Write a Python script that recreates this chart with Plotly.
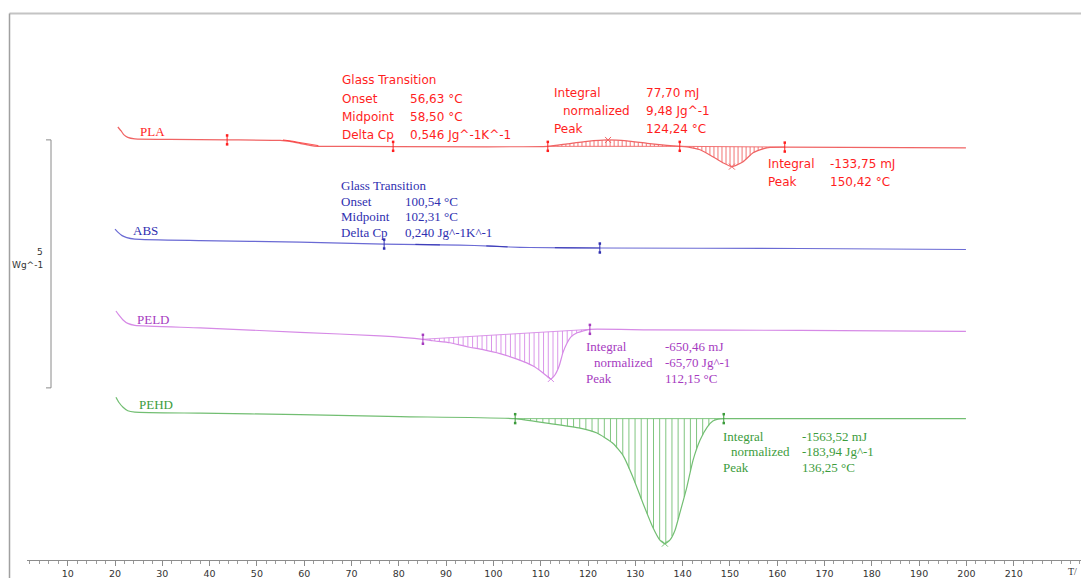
import numpy as np
import plotly.graph_objects as go

# ---------------- data ----------------
# temperature in °C, heat flow in W/g relative to each curve's start level
pla_T = [20.6, 21.3, 21.9, 22.7, 24.2, 31.6, 43.7, 54.9, 57.0, 59.1, 61.2, 62.9, 65.5,
         111.5, 115.6, 119.8, 124.0, 128.2, 132.5, 136.7, 139.4, 141.5, 143.7, 146.4,
         148.5, 150.4, 152.8, 154.9, 157.0, 158.5, 161.6, 199.9]
pla_hf = [0.26, 0.18, 0.10, 0.05, 0.02, 0.01, 0.0, -0.01, -0.03, -0.07, -0.11, -0.13, -0.13,
          -0.13, -0.08, -0.03, 0.0, -0.02, -0.07, -0.11, -0.13, -0.15, -0.20, -0.34,
          -0.46, -0.54, -0.44, -0.26, -0.18, -0.15, -0.145, -0.16]

abs_T = [20.0, 20.6, 21.5, 22.5, 24.2, 38.0, 59.1, 76.9, 92.9, 99.3, 103.5, 107.7, 122.5, 164.8, 199.9]
abs_hf = [0.21, 0.15, 0.08, 0.04, 0.01, -0.02, -0.05, -0.09, -0.11, -0.13, -0.15, -0.16, -0.17, -0.18, -0.20]

peld_T = [20.2, 20.8, 21.7, 22.7, 24.2, 38.0, 59.1, 76.0, 85.1, 87.2, 90.8, 94.4, 97.8, 101.4,
          105.0, 108.4, 110.5, 111.5, 112.15, 113.0, 113.9, 114.7, 115.6, 116.4, 117.7, 119.0,
          120.4, 133.1, 164.8, 199.9]
peld_hf = [0.28, 0.20, 0.10, 0.03, -0.01, -0.06, -0.15, -0.22, -0.29, -0.32, -0.36, -0.44, -0.50, -0.58,
           -0.69, -0.83, -0.97, -1.05, -1.09, -1.01, -0.83, -0.56, -0.36, -0.24, -0.16, -0.12,
           -0.09, -0.10, -0.11, -0.13]

pehd_T = [20.2, 20.8, 21.7, 22.7, 24.2, 38.0, 59.1, 80.3, 104.6, 111.3, 118.3, 121.9, 125.3, 127.4,
          129.5, 131.6, 133.7, 135.2, 136.25, 137.3, 138.4, 139.4, 140.9, 142.2, 143.7, 145.2,
          146.4, 147.5, 148.7, 164.8, 199.9]
pehd_hf = [0.30, 0.20, 0.10, 0.03, 0.0, -0.02, -0.05, -0.09, -0.13, -0.22, -0.32, -0.42, -0.63, -0.87,
           -1.31, -1.83, -2.32, -2.58, -2.65, -2.58, -2.38, -2.04, -1.51, -0.97, -0.56, -0.30,
           -0.18, -0.14, -0.13, -0.13, -0.13]

# vertical stacking offsets (W/g)
offsets = {"PLA": 8.47, "ABS": 6.46, "PELD": 4.74, "PEHD": 2.98}

# evaluation limits / peaks (°C)
pla_tg_limits = [43.7, 78.8]
pla_int_limits = [111.5, 139.4, 161.6]
pla_peaks = [124.24, 150.42]
abs_tg_limits = [76.9, 122.5]
peld_limits = [85.1, 120.4]
peld_peak = [112.15]
pehd_limits = [104.6, 148.7]
pehd_peak = [136.25]

scale_bar_wg = 5
x_tick_vals = list(range(10, 211, 10))

# ---------------- colours ----------------
LINE = {"PLA": "#f06464", "ABS": "#6a6ad4", "PELD": "#d68ae6", "PEHD": "#72be72"}
TEXT = {"PLA": "#ff1e1e", "ABS": "#2f2fb0", "PELD": "#a63bbf", "PEHD": "#3c9c3c"}

# ---------------- pixel helpers (for layout placement only) ----------------
PX_PER_DEG, X0_PX, PX_PER_WG, AXIS_PX = 4.73, 20.4, 49.6, 560


def T_at(px):
    return (px - X0_PX) / PX_PER_DEG


def Y_at(py):
    return (AXIS_PX - py) / PX_PER_WG


curves = {
    "PLA": (np.array(pla_T), np.array(pla_hf) + offsets["PLA"]),
    "ABS": (np.array(abs_T), np.array(abs_hf) + offsets["ABS"]),
    "PELD": (np.array(peld_T), np.array(peld_hf) + offsets["PELD"]),
    "PEHD": (np.array(pehd_T), np.array(pehd_hf) + offsets["PEHD"]),
}


def yc(name, t):
    T, Y = curves[name]
    return float(np.interp(t, T, Y))


fig = go.Figure()

# hatching
def hatch(name, t0, t1, step):
    xs, ys = [], []
    b0, b1 = yc(name, t0), yc(name, t1)
    for t in np.arange(t0 + step / 2, t1, step):
        yb = b0 + (b1 - b0) * (t - t0) / (t1 - t0)
        xs += [t, t, None]
        ys += [yb, yc(name, t), None]
    xs += [t0, t1, None]
    ys += [b0, b1, None]
    fig.add_trace(go.Scatter(x=xs, y=ys, mode="lines", line=dict(color=LINE[name], width=0.9),
                             hoverinfo="skip", showlegend=False))


hatch("PLA", pla_int_limits[0], pla_int_limits[1], 0.85)
hatch("PLA", pla_int_limits[1], pla_int_limits[2], 0.85)
hatch("PELD", peld_limits[0], peld_limits[1], 1.0)
hatch("PEHD", pehd_limits[0], pehd_limits[1], 1.3)

# curves
for name, (T, Y) in curves.items():
    fig.add_trace(go.Scatter(x=T, y=Y, mode="lines", line=dict(color=LINE[name], width=1.2, shape="spline", smoothing=0.5),
                             hoverinfo="skip", showlegend=False))

# tangent segments (glass transitions)
def tangent(name, t0, t1, width=1.2, dy=0.0):
    ts = np.linspace(t0, t1, 8)
    fig.add_trace(go.Scatter(x=ts, y=[yc(name, t) + dy for t in ts], mode="lines",
                             line=dict(color=TEXT[name], width=width), opacity=0.75,
                             hoverinfo="skip", showlegend=False))


tangent("ABS", 83.5, 88.7)
tangent("ABS", 98.5, 103.0)
tangent("ABS", 113.0, 122.5)
tangent("PLA", 55.5, 63.0, 1.0, 0.015)

# limit markers
def limits(name, ts):
    xs, ys = [], []
    for t in ts:
        y = yc(name, t)
        xs += [t, t, None]
        ys += [y + 0.09, y - 0.09, None]
    fig.add_trace(go.Scatter(x=xs, y=ys, mode="lines+markers", line=dict(color=TEXT[name], width=1),
                             marker=dict(size=2.5, symbol="square", color=TEXT[name]),
                             hoverinfo="skip", showlegend=False))


limits("PLA", pla_tg_limits + pla_int_limits)
limits("ABS", abs_tg_limits)
limits("PELD", peld_limits)
limits("PEHD", pehd_limits)

# peak markers
def peaks(name, ts):
    fig.add_trace(go.Scatter(x=ts, y=[yc(name, t) for t in ts], mode="markers",
                             marker=dict(symbol="x-thin", size=6, line=dict(color=LINE[name], width=1)),
                             hoverinfo="skip", showlegend=False))


peaks("PLA", pla_peaks)
peaks("PELD", peld_peak)
peaks("PEHD", pehd_peak)

# ---------------- annotations ----------------
ann = []


def txt(px, py, s, color, family, size, anchor="left"):
    ann.append(dict(x=T_at(px), y=Y_at(py), xref="x", yref="y", text=s, showarrow=False,
                    xanchor=anchor, yanchor="middle", font=dict(color=color, family=family, size=size)))


SANS = "DejaVu Sans"
SERIF = "Liberation Serif"

# curve names
txt(138, 131, "PLA", TEXT["PLA"], SERIF, 13)
txt(131, 230, "ABS", TEXT["ABS"], SERIF, 13)
txt(135, 319, "PELD", TEXT["PELD"], SERIF, 13)
txt(137, 404, "PEHD", TEXT["PEHD"], SERIF, 13)

c = TEXT["PLA"]
txt(340, 80, "Glass Transition", c, SANS, 12)
for py, a, b in [(98.5, "Onset", "56,63 °C"), (116.5, "Midpoint", "58,50 °C"), (134.5, "Delta Cp", "0,546 Jg^-1K^-1")]:
    txt(340, py, a, c, SANS, 12)
    txt(408, py, b, c, SANS, 12)
for px, py, a, b in [(552, 92.5, "Integral", "77,70 mJ"), (561, 110.5, "normalized", "9,48 Jg^-1"), (552, 128.5, "Peak", "124,24 °C")]:
    txt(px, py, a, c, SANS, 12)
    txt(644, py, b, c, SANS, 12)
for py, a, b in [(164, "Integral", "-133,75 mJ"), (182, "Peak", "150,42 °C")]:
    txt(766, py, a, c, SANS, 12)
    txt(828, py, b, c, SANS, 12)

c = TEXT["ABS"]
txt(339, 185, "Glass Transition", c, SERIF, 13)
for py, a, b in [(201, "Onset", "100,54 °C"), (216.5, "Midpoint", "102,31 °C"), (232.5, "Delta Cp", "0,240 Jg^-1K^-1")]:
    txt(339, py, a, c, SERIF, 13)
    txt(403, py, b, c, SERIF, 13)

c = TEXT["PELD"]
for px, py, a, b in [(584, 346.5, "Integral", "-650,46 mJ"), (592, 362, "normalized", "-65,70 Jg^-1"), (584, 378, "Peak", "112,15 °C")]:
    txt(px, py, a, c, SERIF, 13)
    txt(663, py, b, c, SERIF, 13)

c = TEXT["PEHD"]
for px, py, a, b in [(721, 436.5, "Integral", "-1563,52 mJ"), (729, 451.5, "normalized", "-183,94 Jg^-1"), (721, 467.5, "Peak", "136,25 °C")]:
    txt(px, py, a, c, SERIF, 13)
    txt(800, py, b, c, SERIF, 13)

# scale bar labels
txt(45, 252, str(scale_bar_wg), "#333333", SANS, 9, "right")
txt(45, 265, "Wg^-1", "#333333", SANS, 9, "right")
# axis title (only "T/" is visible in the original)
ann.append(dict(x=T_at(1079), y=(AXIS_PX - 571.5) / AXIS_PX, xref="x", yref="paper", text="T/", showarrow=False,
                xanchor="right", yanchor="middle", font=dict(color="#333333", family="Liberation Serif", size=10)))

# ---------------- shapes ----------------
bar_top = offsets["PLA"]
bar_bot = bar_top - scale_bar_wg
xb, xl = T_at(51), T_at(46)
shapes = [
    dict(type="line", x0=xb, x1=xb, y0=bar_bot, y1=bar_top, xref="x", yref="y", line=dict(color="#8a8a8a", width=1)),
    dict(type="line", x0=xl, x1=xb, y0=bar_top, y1=bar_top, xref="x", yref="y", line=dict(color="#8a8a8a", width=1)),
    dict(type="line", x0=xl, x1=xb, y0=bar_bot, y1=bar_bot, xref="x", yref="y", line=dict(color="#8a8a8a", width=1)),
]
PLOT_W = 1081 - 27
left_paper = (9.5 - 27) / PLOT_W
top_paper = (560 - 13.5) / 560
shapes += [
    dict(type="line", xref="paper", yref="paper", x0=left_paper, x1=1.02, y0=top_paper, y1=top_paper,
         line=dict(color="#c4c4c4", width=2)),
    dict(type="line", xref="paper", yref="paper", x0=left_paper, x1=left_paper, y0=top_paper, y1=-0.05,
         line=dict(color="#a0a0a0", width=1.5)),
]

fig.update_layout(
    width=1081, height=578,
    margin=dict(l=27, r=0, t=0, b=18),
    paper_bgcolor="white", plot_bgcolor="white",
    showlegend=False,
    annotations=ann, shapes=shapes,
    xaxis=dict(range=[T_at(27), T_at(1081)], showgrid=False, zeroline=False,
               showline=True, linecolor="#8c8c8c", linewidth=1,
               tickmode="array", tickvals=x_tick_vals, ticktext=[str(v) for v in x_tick_vals],
               ticks="outside", ticklen=5, tickcolor="#8c8c8c", tickwidth=1,
               minor=dict(dtick=2, tick0=0, ticks="outside", ticklen=3, tickcolor="#9c9c9c"),
               tickfont=dict(family=SANS, size=9.5, color="#333333")),
    yaxis=dict(range=[0, AXIS_PX / PX_PER_WG], visible=False, fixedrange=True),
)

fig.write_html("out.html", config={"displayModeBar": False, "staticPlot": True},
               post_script="document.body.style.margin='0';document.body.style.padding='0';document.body.style.overflow='hidden';")
